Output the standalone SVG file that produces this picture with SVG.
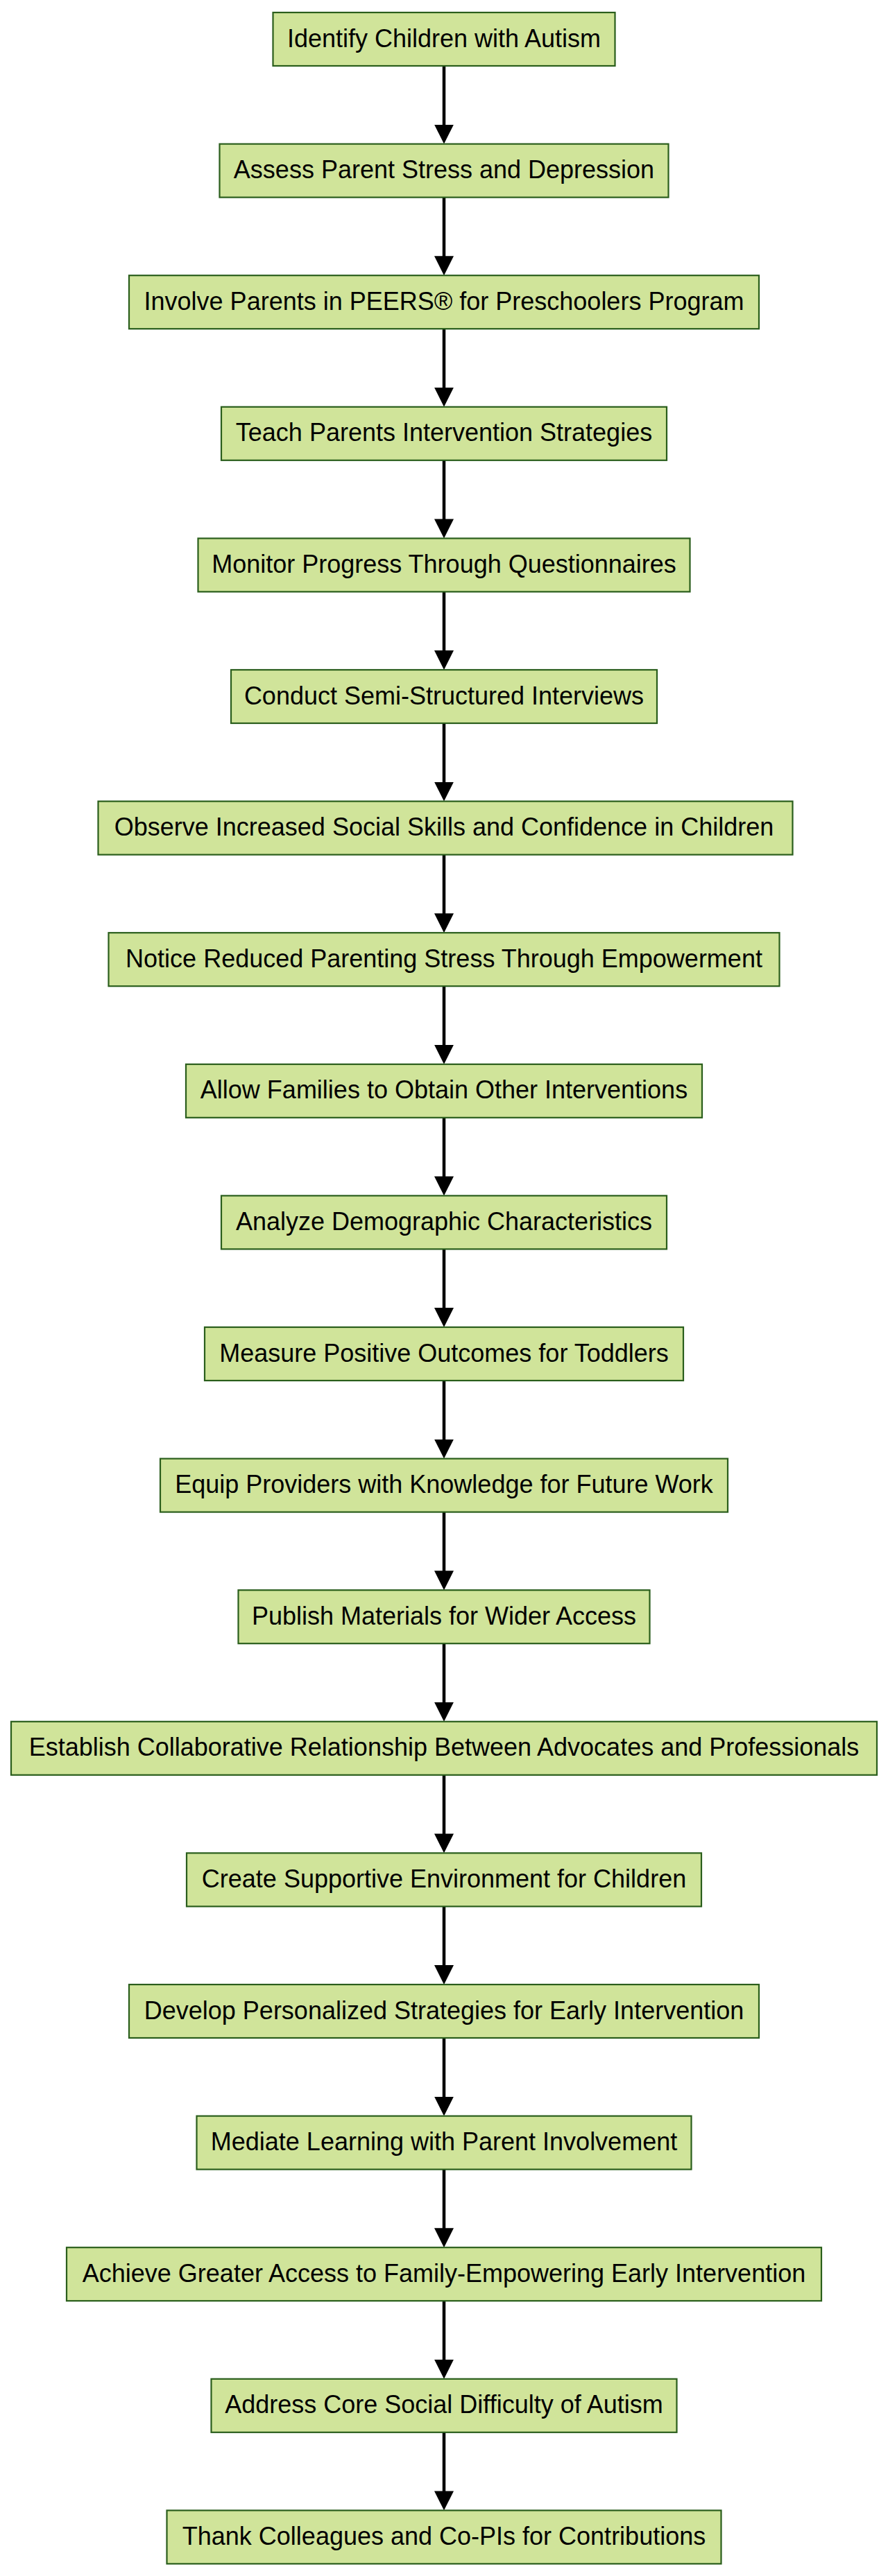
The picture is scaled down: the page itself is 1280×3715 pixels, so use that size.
<svg xmlns="http://www.w3.org/2000/svg" width="1280" height="3715" viewBox="0 0 1280 3715">
<style>
.n rect{fill:#d0e49a;stroke:#2a5e1c;stroke-width:2.2}
.n text{font-family:"Liberation Sans",Arial,sans-serif;font-size:36px;fill:#000;text-anchor:middle}
.e line{stroke:#000;stroke-width:4.5}
</style>
<defs>
<marker id="ah" markerUnits="userSpaceOnUse" markerWidth="28" markerHeight="28" refX="8" refY="14" orient="auto" viewBox="0 0 28 28">
<path d="M0,0 L28,14 L0,28 z" fill="#000"/>
</marker>
</defs>
<rect width="1280" height="3715" fill="#fff"/>
<g id="connectors" class="e">
<line x1="640" y1="95" x2="640" y2="187.6" marker-end="url(#ah)"/>
<line x1="640" y1="284.6" x2="640" y2="377.2" marker-end="url(#ah)"/>
<line x1="640" y1="474.2" x2="640" y2="566.8" marker-end="url(#ah)"/>
<line x1="640" y1="663.8" x2="640" y2="756.4" marker-end="url(#ah)"/>
<line x1="640" y1="853.4" x2="640" y2="946" marker-end="url(#ah)"/>
<line x1="640" y1="1043" x2="640" y2="1135.6" marker-end="url(#ah)"/>
<line x1="640" y1="1232.6" x2="640" y2="1325.2" marker-end="url(#ah)"/>
<line x1="640" y1="1422.2" x2="640" y2="1514.8" marker-end="url(#ah)"/>
<line x1="640" y1="1611.8" x2="640" y2="1704.4" marker-end="url(#ah)"/>
<line x1="640" y1="1801.4" x2="640" y2="1894" marker-end="url(#ah)"/>
<line x1="640" y1="1991" x2="640" y2="2083.6" marker-end="url(#ah)"/>
<line x1="640" y1="2180.6" x2="640" y2="2273.2" marker-end="url(#ah)"/>
<line x1="640" y1="2370.2" x2="640" y2="2462.8" marker-end="url(#ah)"/>
<line x1="640" y1="2559.8" x2="640" y2="2652.4" marker-end="url(#ah)"/>
<line x1="640" y1="2749.4" x2="640" y2="2842" marker-end="url(#ah)"/>
<line x1="640" y1="2939" x2="640" y2="3031.6" marker-end="url(#ah)"/>
<line x1="640" y1="3128.6" x2="640" y2="3221.2" marker-end="url(#ah)"/>
<line x1="640" y1="3318.2" x2="640" y2="3410.8" marker-end="url(#ah)"/>
<line x1="640" y1="3507.8" x2="640" y2="3600.4" marker-end="url(#ah)"/>
</g>
<g id="n1" class="n"><rect x="393.5" y="18" width="493" height="77"/><text x="640" y="67.5">Identify Children with Autism</text></g>
<g id="n2" class="n"><rect x="316.5" y="207.6" width="647" height="77"/><text x="640" y="257.1">Assess Parent Stress and Depression</text></g>
<g id="n3" class="n"><rect x="186" y="397.2" width="908" height="77"/><text x="640" y="446.7">Involve Parents in PEERS® for Preschoolers Program</text></g>
<g id="n4" class="n"><rect x="319" y="586.8" width="642" height="77"/><text x="640" y="636.3">Teach Parents Intervention Strategies</text></g>
<g id="n5" class="n"><rect x="285.5" y="776.4" width="709" height="77"/><text x="640" y="825.9">Monitor Progress Through Questionnaires</text></g>
<g id="n6" class="n"><rect x="333" y="966" width="614" height="77"/><text x="640" y="1015.5">Conduct Semi-Structured Interviews</text></g>
<g id="n7" class="n"><rect x="141.5" y="1155.6" width="1001" height="77"/><text x="640" y="1205.1">Observe Increased Social Skills and Confidence in Children</text></g>
<g id="n8" class="n"><rect x="156.5" y="1345.2" width="967" height="77"/><text x="640" y="1394.7">Notice Reduced Parenting Stress Through Empowerment</text></g>
<g id="n9" class="n"><rect x="268" y="1534.8" width="744" height="77"/><text x="640" y="1584.3">Allow Families to Obtain Other Interventions</text></g>
<g id="n10" class="n"><rect x="319" y="1724.4" width="642" height="77"/><text x="640" y="1773.9">Analyze Demographic Characteristics</text></g>
<g id="n11" class="n"><rect x="295" y="1914" width="690" height="77"/><text x="640" y="1963.5">Measure Positive Outcomes for Toddlers</text></g>
<g id="n12" class="n"><rect x="231" y="2103.6" width="818" height="77"/><text x="640" y="2153.1">Equip Providers with Knowledge for Future Work</text></g>
<g id="n13" class="n"><rect x="343.5" y="2293.2" width="593" height="77"/><text x="640" y="2342.7">Publish Materials for Wider Access</text></g>
<g id="n14" class="n"><rect x="16" y="2482.8" width="1248" height="77"/><text x="640" y="2532.3">Establish Collaborative Relationship Between Advocates and Professionals</text></g>
<g id="n15" class="n"><rect x="269" y="2672.4" width="742" height="77"/><text x="640" y="2721.9">Create Supportive Environment for Children</text></g>
<g id="n16" class="n"><rect x="186" y="2862" width="908" height="77"/><text x="640" y="2911.5">Develop Personalized Strategies for Early Intervention</text></g>
<g id="n17" class="n"><rect x="283.5" y="3051.6" width="713" height="77"/><text x="640" y="3101.1">Mediate Learning with Parent Involvement</text></g>
<g id="n18" class="n"><rect x="96" y="3241.2" width="1088" height="77"/><text x="640" y="3290.7">Achieve Greater Access to Family-Empowering Early Intervention</text></g>
<g id="n19" class="n"><rect x="304.5" y="3430.8" width="671" height="77"/><text x="640" y="3480.3">Address Core Social Difficulty of Autism</text></g>
<g id="n20" class="n"><rect x="240.5" y="3620.4" width="799" height="77"/><text x="640" y="3669.9">Thank Colleagues and Co-PIs for Contributions</text></g>
</svg>
